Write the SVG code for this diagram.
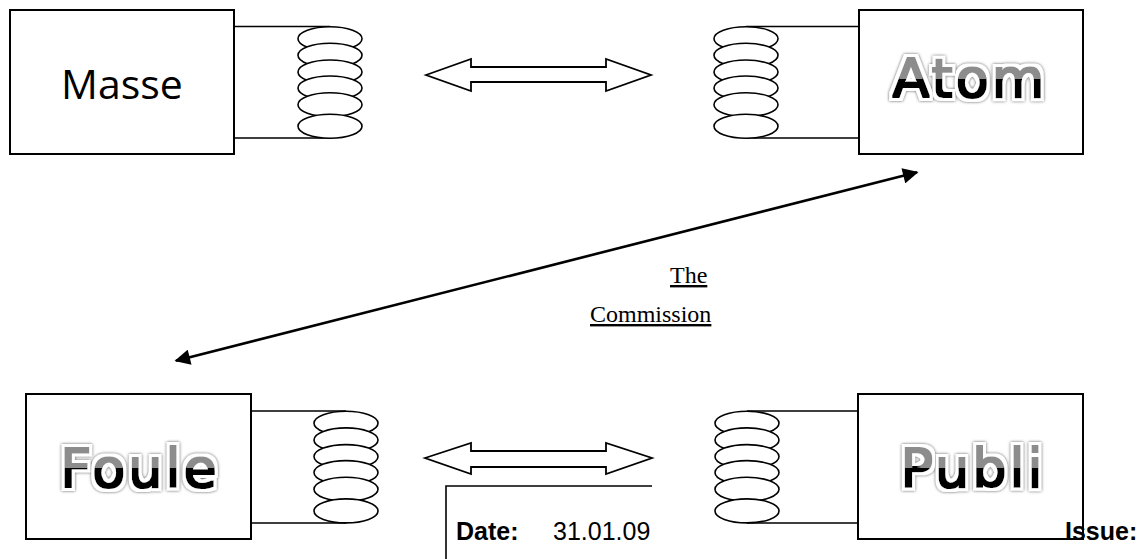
<svg xmlns="http://www.w3.org/2000/svg" width="1148" height="559" viewBox="0 0 1148 559">
<style>
.box{fill:#fff;stroke:#000;stroke-width:2}
.lead{fill:none;stroke:#000;stroke-width:1.6}
.coil ellipse{fill:#fff;stroke:#000;stroke-width:1.6}
.dbl{fill:#fff;stroke:#000;stroke-width:1.8;stroke-linejoin:miter}
.conn{fill:none;stroke:#000;stroke-width:2.6}
.plain{font-family:"Open Sans","Liberation Sans",sans-serif;font-size:41px;fill:#000}
.art{font-family:"DejaVu Sans",sans-serif;font-size:54px;letter-spacing:3px;filter:url(#glow)}
.serif{font-family:"Liberation Serif",serif;font-size:24px;fill:#000;text-decoration:underline}
.foot{font-family:"Liberation Sans",Arial,sans-serif;font-size:25px;fill:#000}
.b{font-weight:bold}
</style>
<defs>
<filter id="glow" x="-15%" y="-35%" width="130%" height="170%">
<feMorphology in="SourceGraphic" operator="dilate" radius="0.8" result="bold"/>
<feMorphology in="SourceAlpha" operator="dilate" radius="3.6" result="ring"/>
<feFlood flood-color="#fff" result="w"/>
<feComposite in="w" in2="ring" operator="in" result="white"/>
<feMorphology in="SourceAlpha" operator="dilate" radius="4.2" result="ring2"/>
<feGaussianBlur in="ring2" stdDeviation="1.5" result="bl"/>
<feFlood flood-color="#5a5a5a"/>
<feComposite in2="bl" operator="in" result="glowc"/>
<feMerge><feMergeNode in="glowc"/><feMergeNode in="white"/><feMergeNode in="bold"/></feMerge>
</filter>
<linearGradient id="gA" gradientUnits="userSpaceOnUse" x1="0" y1="58" x2="0" y2="97">
<stop offset="0" stop-color="#8c8c8c"/><stop offset="0.52" stop-color="#8c8c8c"/><stop offset="0.52" stop-color="#000"/><stop offset="1" stop-color="#000"/>
</linearGradient>
<linearGradient id="gB" gradientUnits="userSpaceOnUse" x1="0" y1="448" x2="0" y2="487">
<stop offset="0" stop-color="#8c8c8c"/><stop offset="0.48" stop-color="#8c8c8c"/><stop offset="0.48" stop-color="#000"/><stop offset="1" stop-color="#000"/>
</linearGradient>
<marker id="ah" viewBox="0 0 10 10" refX="9" refY="5" markerWidth="6.5" markerHeight="6" orient="auto-start-reverse" markerUnits="strokeWidth">
<path d="M0,0 L10,5 L0,10 z" fill="#000"/>
</marker>
<g id="coil" class="coil">
<ellipse cx="0" cy="0" rx="32" ry="12"/>
<ellipse cx="0" cy="16.6" rx="32" ry="12"/>
<ellipse cx="0" cy="33.3" rx="32" ry="12"/>
<ellipse cx="0" cy="49.3" rx="32" ry="12"/>
<ellipse cx="0" cy="66" rx="32" ry="12"/>
<ellipse cx="0" cy="87.6" rx="32" ry="12"/>
</g>
</defs>

<g id="node-masse">
<rect class="box" x="10" y="10" width="224" height="144"/>
<path class="lead" d="M234,26.5 H330 M234,138 H330"/>
<use href="#coil" x="330" y="38.7"/>
<text class="plain" x="122" y="99" text-anchor="middle">Masse</text>
</g>

<g id="node-atom">
<rect class="box" x="859" y="10" width="224" height="144"/>
<path class="lead" d="M746,26.5 H859 M746,138 H859"/>
<use href="#coil" x="746" y="38.7"/>
<text class="art" x="970" y="97" text-anchor="middle" fill="url(#gA)">Atom</text>
</g>

<g id="node-foule">
<rect class="box" x="26" y="394" width="225" height="145"/>
<path class="lead" d="M251,411 H346 M251,523 H346"/>
<use href="#coil" x="346" y="423.3"/>
<text class="art" x="140" y="487" text-anchor="middle" fill="url(#gB)">Foule</text>
</g>

<g id="node-publi">
<rect class="box" x="858" y="394" width="225" height="145"/>
<path class="lead" d="M747,411 H858 M747,523 H858"/>
<use href="#coil" x="747" y="423.3"/>
<text class="art" x="973" y="487" text-anchor="middle" fill="url(#gB)">Publi</text>
</g>

<g id="connectors">
<polygon class="dbl" points="426,75 471,59 471,67 606,67 606,59 651,75 606,91 606,82 471,82 471,91"/>
<polygon class="dbl" points="425,458 471,443 471,451 606,451 606,443 652,458 606,474 606,467 471,467 471,474"/>
<line class="conn" x1="176" y1="360.7" x2="917" y2="172.3" marker-start="url(#ah)" marker-end="url(#ah)"/>
</g>

<g id="label-commission">
<text class="serif" x="670" y="283">The</text>
<text class="serif" x="590" y="322">Commission</text>
</g>

<g id="footer">
<path class="lead" d="M446,559 V486 H652"/>
<text class="foot b" x="456" y="540">Date:</text>
<text class="foot" x="553" y="540">31.01.09</text>
<text class="foot b" x="1065" y="540">Issue:</text>
</g>
</svg>
